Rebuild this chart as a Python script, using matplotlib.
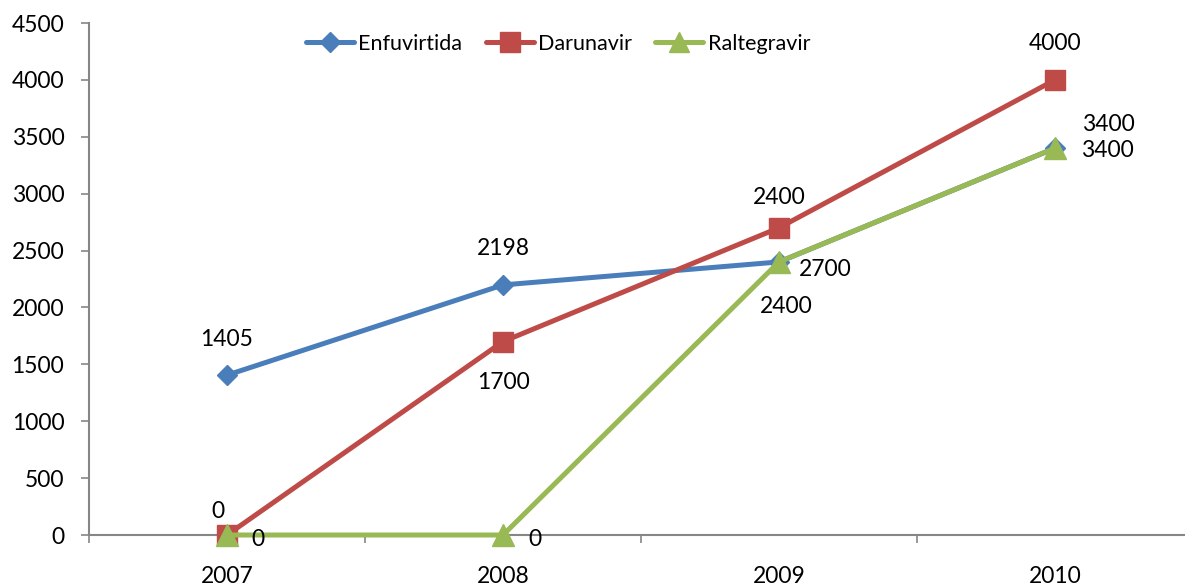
import matplotlib
matplotlib.use("Agg")
import matplotlib.pyplot as plt
from matplotlib.ticker import FixedLocator, MultipleLocator

# Data
years = ["2007", "2008", "2009", "2010"]
enfuvirtida = [1405, 2198, 2400, 3400]
darunavir = [0, 1700, 2700, 4000]
raltegravir = [0, 0, 2400, 3400]

series = [
    ("Enfuvirtida", enfuvirtida, "#4A7EBB", "D", 10.5),
    ("Darunavir", darunavir, "#BE4B48", "s", 14.5),
    ("Raltegravir", raltegravir, "#98B954", "^", 15.5),
]

# Label offsets in pixels (dx, dy to baseline) for each series/point
label_offsets = {
    "Enfuvirtida": [(0, 29.5), (0, 29.5), (0, 57.5), (53, 17.5)],
    "Darunavir": [(-9, 16.5), (0, -47.5), (46, -48.5), (0, 29.5)],
    "Raltegravir": [(31, -10.5), (32, -10.5), (7, -51.5), (52, -8.5)],
}

plt.rcParams["font.family"] = ["Lato", "DejaVu Sans"]
FS = 16.5
LEG_FS = 15.5

W, H = 1185, 586
fig = plt.figure(figsize=(W / 100, H / 100), dpi=100)
ax = fig.add_axes([89 / W, 51 / H, 1104 / W, 512 / H])

x = list(range(len(years)))
for name, vals, color, marker, ms in series:
    ax.plot(x, vals, color=color, lw=3.6, marker=marker, ms=ms,
            mec=color, mfc=color, label=name, solid_capstyle="round",
            clip_on=False, zorder=3)

for name, vals, color, marker, ms in series:
    for xi, v, (dx, dy) in zip(x, vals, label_offsets[name]):
        ax.annotate(str(v), (xi, v), xytext=(dx, dy), textcoords="offset pixels",
                    ha="center", va="baseline", fontsize=FS, color="black",
                    annotation_clip=False, zorder=4)

ax.set_xlim(-0.5, len(years) - 0.5)
ax.set_ylim(0, 4500)
ax.yaxis.set_major_locator(MultipleLocator(500))

ax.set_xticks(x)
ax.set_xticklabels(years)
ax.xaxis.set_minor_locator(FixedLocator([i - 0.5 for i in range(len(years) + 1)]))

spine_c = "#868686"
for s in ["top", "right"]:
    ax.spines[s].set_visible(False)
for s in ["left", "bottom"]:
    ax.spines[s].set_color(spine_c)
    ax.spines[s].set_linewidth(1.5)

ax.tick_params(axis="x", which="major", length=0, pad=22, labelsize=FS)
ax.tick_params(axis="x", which="minor", length=5.8, width=1.2, color=spine_c,
               direction="out")
ax.tick_params(axis="y", which="major", length=5.8, width=1.2, color=spine_c,
               pad=12, labelsize=FS, direction="out")

fig.legend(loc="center", bbox_to_anchor=(558 / W, 1 - 44 / H), ncol=3,
           frameon=False, fontsize=LEG_FS, handlelength=2.23, handletextpad=0.19,
           columnspacing=1.1, markerscale=0.95)

fig.savefig("out.png", dpi=100)
